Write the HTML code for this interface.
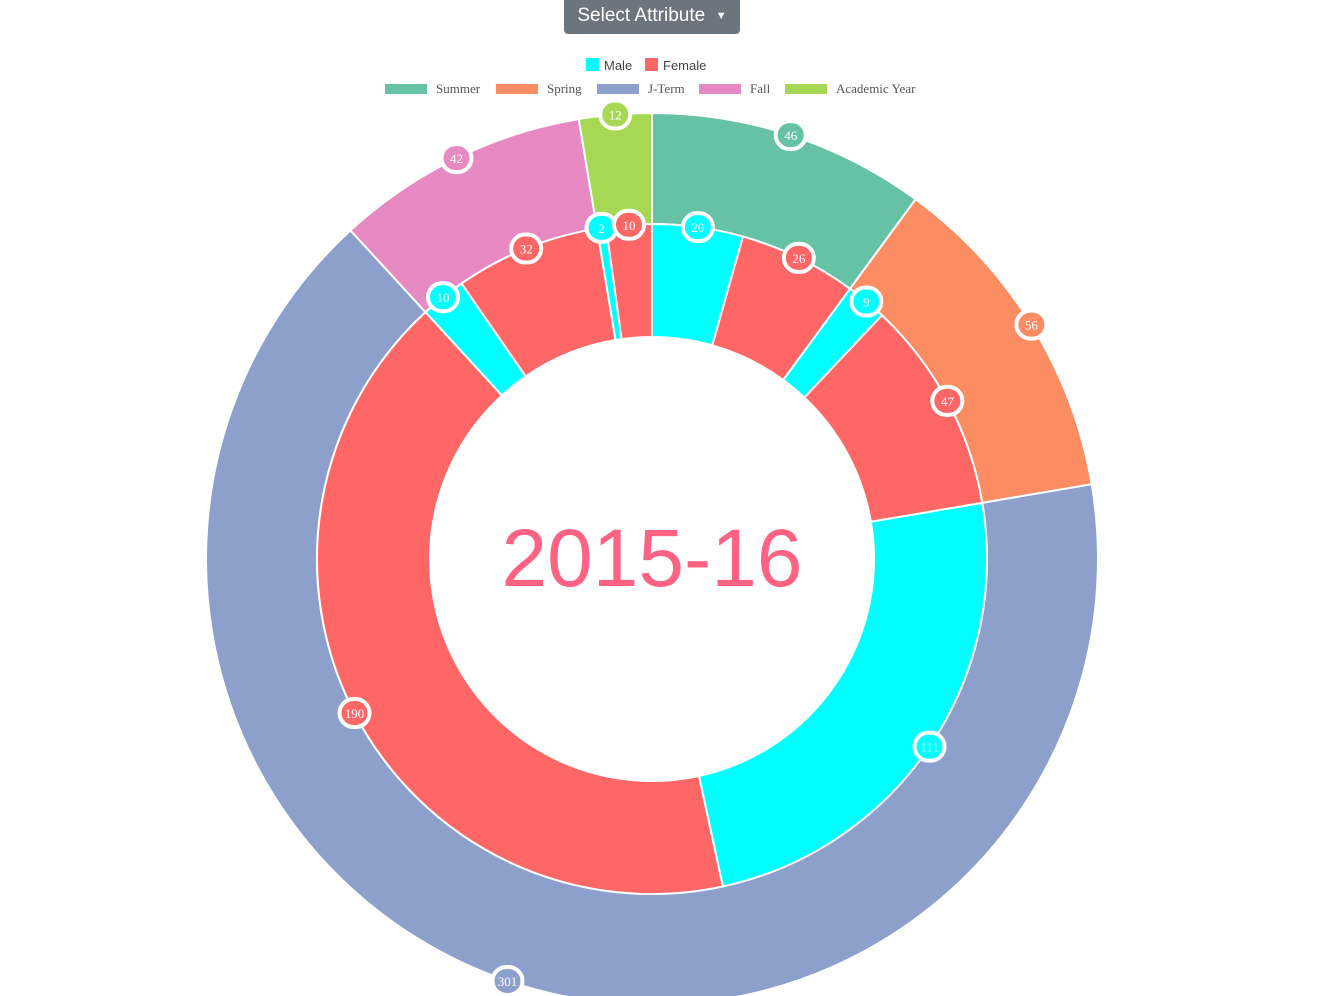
<!DOCTYPE html>
<html><head><meta charset="utf-8"><style>
body{margin:0;width:1337px;height:996px;overflow:hidden;background:#fff;font-family:"Liberation Sans",sans-serif}
#btn{position:absolute;left:564px;top:-4px;width:176px;height:38px;background:#6c757d;color:#fff;border-radius:4px;font-size:19px;line-height:40px;text-align:center}
svg{position:absolute;left:0;top:0}
</style></head><body>
<div id="btn">Select Attribute &nbsp;<span style="font-size:11px;vertical-align:2px">▼</span></div>
<svg id="c" width="1337" height="996"></svg>
<script>
const terms=["Summer","Spring","J-Term","Fall","Academic Year"];
const termColors=["#66c2a5","#fc8d62","#8da0cb","#e78ac3","#a6d854"];
const termValues=[46,56,301,42,12];
const genders=["Male","Female"];
const genderColors=["#00ffff","#ff6666"];
const maleValues=[20,9,111,10,2];
const femaleValues=[26,47,190,32,10];
const centerLabel="2015-16";

const NS="http://www.w3.org/2000/svg";
const svg=document.getElementById('c');
const cx=652,cy=559;
function mk(t,a,p){const e=document.createElementNS(NS,t);for(const k in a)e.setAttribute(k,a[k]);(p||svg).appendChild(e);return e;}
function pt(r,a){return [cx+r*Math.sin(a),cy-r*Math.cos(a)];}
function arc(r0,r1,a0,a1){const [x0,y0]=pt(r1,a0),[x1,y1]=pt(r1,a1),[x2,y2]=pt(r0,a1),[x3,y3]=pt(r0,a0);const l=(a1-a0)>Math.PI?1:0;
return `M${x0},${y0}A${r1},${r1} 0 ${l} 1 ${x1},${y1}L${x2},${y2}A${r0},${r0} 0 ${l} 0 ${x3},${y3}Z`;}
const labels=[];
function ring(vals,cols,r0,r1,names){const tot=vals.reduce((a,b)=>a+b,0);let a=0;
vals.forEach((v,i)=>{const a1=a+v/tot*2*Math.PI;const p=mk('path',{d:arc(r0,r1,a,a1),fill:cols[i],stroke:'#fff','stroke-width':2});


labels.push({v,c:cols[i],p:pt(r1,(a+a1)/2)});a=a1;});}
ring(termValues,termColors,335,446,terms.map(t=>'slice-'+t.toLowerCase().replace(/ /g,'-')));
const inner=[],icol=[],inames=[];
terms.forEach((t,i)=>{inner.push(maleValues[i],femaleValues[i]);icol.push(genderColors[0],genderColors[1]);
inames.push('slice-male-'+t.toLowerCase().replace(/ /g,'-'),'slice-female-'+t.toLowerCase().replace(/ /g,'-'));});
ring(inner,icol,222,335,inames);
labels.forEach(l=>{const g=mk('g',{});


mk('rect',{x:l.p[0]-15,y:l.p[1]-14,width:30,height:28,rx:14,fill:l.c,stroke:'#fff','stroke-width':4},g);
const t=mk('text',{x:l.p[0],y:l.p[1]+5,'text-anchor':'middle','font-size':13,fill:'#fff','font-family':'Liberation Serif,serif'},g);t.textContent=l.v;});
const ct=mk('text',{x:cx,y:cy+27,'text-anchor':'middle','font-size':82,fill:'#ff6384'});ct.textContent=centerLabel;


let x=586;genders.forEach((g,i)=>{const e=mk('g',{});


mk('rect',{x:x,y:58,width:13,height:13,fill:genderColors[i]},e);
const t=mk('text',{x:x+18,y:70,'font-size':13,fill:'#444'},e);t.textContent=g;x+=59;});
const lx=[385,496,597,699,785];
terms.forEach((tm,i)=>{const e=mk('g',{});


mk('rect',{x:lx[i],y:84,width:42,height:10,fill:termColors[i]},e);
const t=mk('text',{x:lx[i]+51,y:93,'font-size':13,fill:'#555','font-family':'Liberation Serif,serif'},e);t.textContent=tm;});
</script></body></html>
